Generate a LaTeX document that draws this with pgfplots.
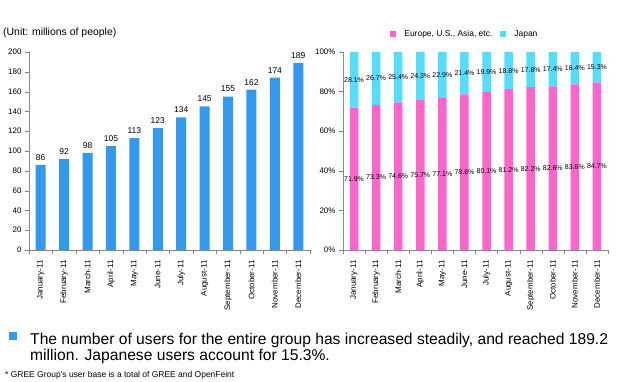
\documentclass[border=0pt]{standalone}
\usepackage{pgfplots}
\pgfplotsset{compat=1.18}
\usepackage{fontspec}
\setmainfont{Liberation Sans}
\definecolor{barblue}{HTML}{3399EE}
\definecolor{eupink}{HTML}{FF66CC}
\definecolor{jpcyan}{HTML}{55DDFF}
\definecolor{axgray}{HTML}{888888}
\begin{document}
\begin{tikzpicture}
\useasboundingbox (0,0) rectangle (620bp,382bp);
\pgfplotsset{
  common/.style={
    scale only axis,
    anchor=south west,
    height=198bp,
    xmin=-0.5, xmax=11.5,
    xtick={0,...,11},
    xticklabels={January-11,February-11,March-11,April-11,May-11,June-11,July-11,August-11,September-11,October-11,November-11,December-11},
    minor xtick={-0.5,0.5,...,11.5},
    axis x line*=bottom, axis y line*=left,
    axis line style={axgray, -},
    tick align=outside,
    major tick length=4bp, minor tick length=4bp,
    x tick style={draw=none},
    minor x tick style={draw=axgray},
    y tick style={axgray},
    tick label style={font=\fontsize{8}{9}\selectfont, black},
    x tick label style={rotate=90, anchor=east, yshift=0bp, xshift=-3bp},
    /pgf/number format/assume math mode=true,
    ymajorgrids=false,
  }
}
\begin{axis}[common,
  at={(29bp,132bp)}, width=281bp,
  ymin=0, ymax=200, ytick={0,20,...,200},
  ybar, bar width=10bp,
  nodes near coords,
  every node near coord/.append style={font=\fontsize{8.5}{9}\selectfont, black, yshift=1bp},
]
\addplot[fill=barblue, draw=none] coordinates {
(0,86) (1,92) (2,98) (3,105) (4,113) (5,123) (6,134) (7,145) (8,155) (9,162) (10,174) (11,189)};
\end{axis}
\begin{axis}[common,
  at={(343bp,132bp)}, width=265bp,
  ymin=0, ymax=100, ytick={0,20,...,100},
  yticklabel={\pgfmathprintnumber{\tick}\%},
  ybar stacked, bar width=8.5bp,
  nodes near coords={\pgfmathprintnumber[fixed,precision=1,fixed zerofill]{\pgfplotspointmeta}\%},
  point meta=rawy,
  every node near coord/.append style={font=\fontsize{7}{8}\selectfont, black, anchor=center, inner sep=0pt},
  legend style={at={(0.46,1.06)}, anchor=south, draw=none, fill=none, legend columns=2,
     font=\fontsize{8.5}{9}\selectfont, column sep=6bp, inner sep=0pt},
  legend image code/.code={\fill[#1] (0bp,-3bp) rectangle (6bp,3bp);},
]
\addplot[fill=eupink, draw=none] coordinates {
(0,71.9) (1,73.3) (2,74.6) (3,75.7) (4,77.1) (5,78.6) (6,80.1) (7,81.2) (8,82.2) (9,82.6) (10,83.6) (11,84.7)};
\addplot[fill=jpcyan, draw=none] coordinates {
(0,28.1) (1,26.7) (2,25.4) (3,24.3) (4,22.9) (5,21.4) (6,19.9) (7,18.8) (8,17.8) (9,17.4) (10,16.4) (11,15.3)};
\legend{{Europe, U.S., Asia, etc.},Japan}
\end{axis}
\node[anchor=base west, font=\fontsize{10.5}{12}\selectfont, inner sep=0pt] at (3bp,346bp) {(Unit: millions of people)};
\fill[barblue] (9bp,42bp) rectangle (17bp,50bp);
\node[anchor=base west, font=\fontsize{15.7}{17}\selectfont, inner sep=0pt] at (30bp,38bp) {The number of users for the entire group has increased steadily, and reached 189.2};
\node[anchor=base west, font=\fontsize{15.7}{17}\selectfont, inner sep=0pt] at (30bp,22bp) {million. Japanese users account for 15.3\%.};
\node[anchor=base west, font=\fontsize{8.5}{10}\selectfont, inner sep=0pt] at (5bp,5bp) {* GREE Group's user base is a total of GREE and OpenFeint};
\end{tikzpicture}
\end{document}
